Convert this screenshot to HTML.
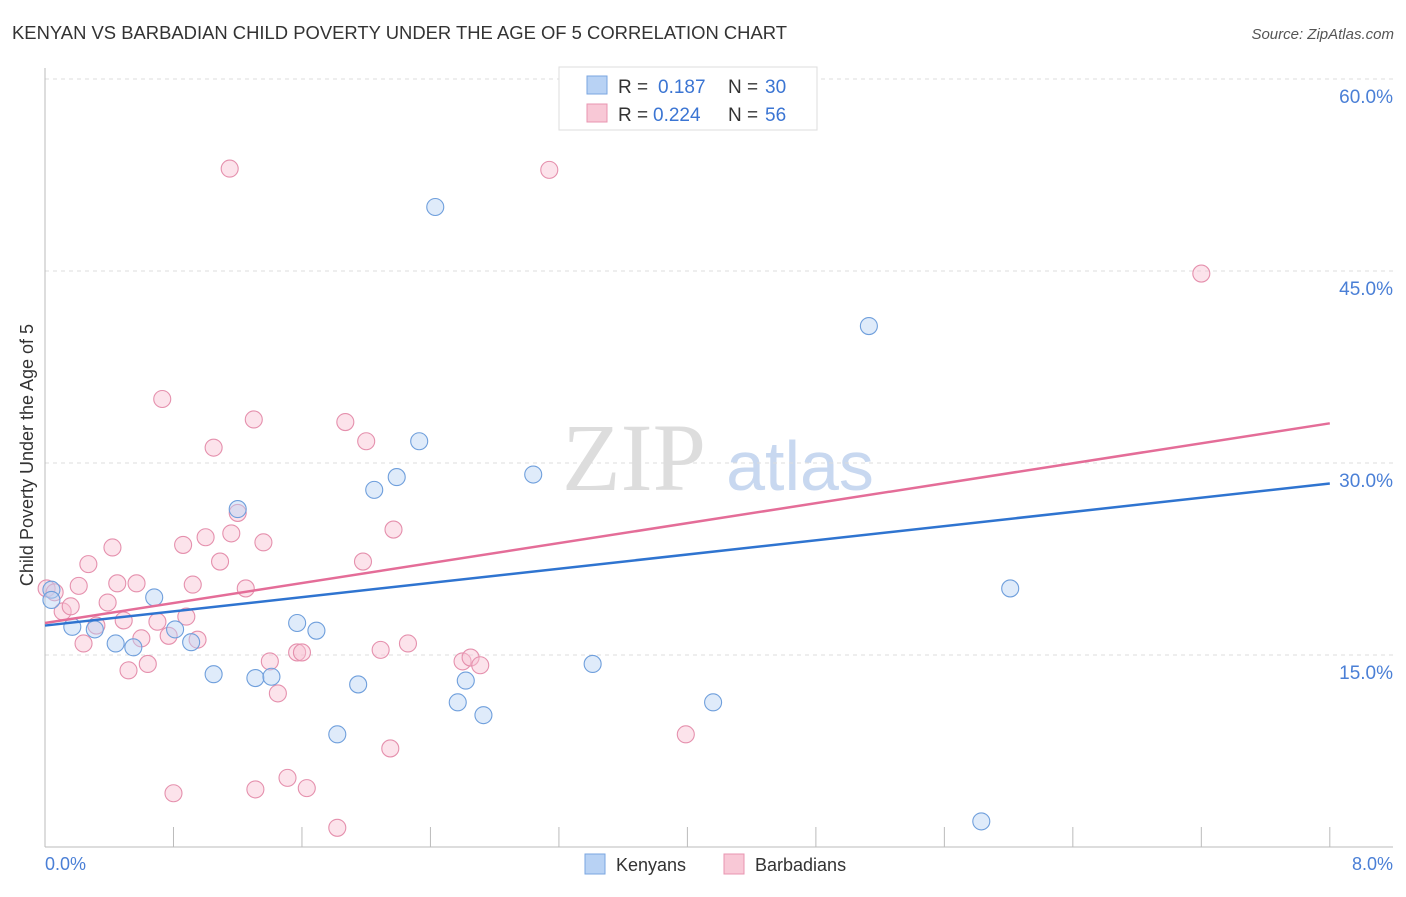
<!DOCTYPE html>
<html><head><meta charset="utf-8"><style>
body{margin:0;background:#fff;font-family:"Liberation Sans",sans-serif;}
</style></head><body>
<svg width="1406" height="892" xmlns="http://www.w3.org/2000/svg">
<text x="12" y="39" font-size="18" fill="#333" textLength="775" lengthAdjust="spacingAndGlyphs">KENYAN VS BARBADIAN CHILD POVERTY UNDER THE AGE OF 5 CORRELATION CHART</text>
<text x="1394" y="39" font-size="15" fill="#555" font-style="italic" text-anchor="end">Source: ZipAtlas.com</text>
<text x="634" y="490" font-size="96" fill="#ddd" font-family="Liberation Serif,serif" text-anchor="middle">ZIP</text>
<text x="800" y="490" font-size="70" fill="#c8d8f0" text-anchor="middle">atlas</text>
<g id="grid"></g><g id="axes"></g><g id="pts"></g><g id="lines"></g>
<text x="33" y="455" font-size="18" fill="#333" text-anchor="middle" transform="rotate(-90 33 455)">Child Poverty Under the Age of 5</text>
<text x="45" y="870" font-size="18" fill="#4a7fd6">0.0%</text>
<text x="1393" y="870" font-size="18" fill="#4a7fd6" text-anchor="end">8.0%</text>
<g>
<rect x="559" y="67" width="258" height="63" fill="#fff" stroke="#ddd"/>
<rect x="587" y="76" width="20" height="18" fill="#b8d2f4" stroke="#7aa6e0"/>
<text x="618" y="93" font-size="19" fill="#333">R =</text>
<text x="658" y="93" font-size="19" fill="#3b75d3">0.187</text>
<text x="728" y="93" font-size="19" fill="#333">N =</text>
<text x="765" y="93" font-size="19" fill="#3b75d3">30</text>
<rect x="587" y="104" width="20" height="18" fill="#f8c8d6" stroke="#e895b0"/>
<text x="618" y="121" font-size="19" fill="#333">R =</text>
<text x="653" y="121" font-size="19" fill="#3b75d3">0.224</text>
<text x="728" y="121" font-size="19" fill="#333">N =</text>
<text x="765" y="121" font-size="19" fill="#3b75d3">56</text>
</g>
<g>
<rect x="585" y="854" width="20" height="20" fill="#b8d2f4" stroke="#7aa6e0"/>
<text x="616" y="871" font-size="18" fill="#333">Kenyans</text>
<rect x="724" y="854" width="20" height="20" fill="#f8c8d6" stroke="#e895b0"/>
<text x="755" y="871" font-size="18" fill="#333">Barbadians</text>
</g>
</svg>
<script>
const yTicks=[15,30,45,60];
const yTickLabels=["15.0%","30.0%","45.0%","60.0%"];
const xTicks=[0,0.8,1.6,2.4,3.2,4.0,4.8,5.6,6.4,7.2,8.0];
const kenX=[0.04,0.04,0.17,0.31,0.44,0.55,0.68,0.81,0.91,1.05,1.20,1.31,1.41,1.57,1.69,1.82,1.95,2.05,2.19,2.33,2.43,2.57,2.62,2.73,3.04,3.41,4.16,5.13,5.83,6.01];
const kenY=[20.1,19.3,17.2,17.0,15.9,15.6,19.5,17.0,16.0,13.5,26.4,13.2,13.3,17.5,16.9,8.8,12.7,27.9,28.9,31.7,50.0,11.3,13.0,10.3,29.1,14.3,11.3,40.7,2.0,20.2];
const barX=[0.01,0.06,0.11,0.16,0.21,0.24,0.27,0.32,0.39,0.42,0.45,0.49,0.52,0.57,0.60,0.64,0.70,0.73,0.77,0.80,0.86,0.88,0.92,0.95,1.00,1.05,1.09,1.15,1.16,1.20,1.25,1.31,1.36,1.30,1.40,1.45,1.51,1.57,1.60,1.63,1.82,1.87,1.98,2.00,2.09,2.15,2.17,2.26,2.60,2.65,2.71,3.14,3.99,7.20];
const barY=[20.2,19.9,18.4,18.8,20.4,15.9,22.1,17.3,19.1,23.4,20.6,17.7,13.8,20.6,16.3,14.3,17.6,35.0,16.5,4.2,23.6,18.0,20.5,16.2,24.2,31.2,22.3,53.0,24.5,26.1,20.2,4.5,23.8,33.4,14.5,12.0,5.4,15.2,15.2,4.6,1.5,33.2,22.3,31.7,15.4,7.7,24.8,15.9,14.5,14.8,14.2,52.9,8.8,44.8];
const kenTrend=[17.3,28.4];
const barTrend=[17.5,33.1];
const NS="http://www.w3.org/2000/svg";
const X=v=>45+v*160.6, Y=v=>847-v*12.8;
function mk(t,a,p){const e=document.createElementNS(NS,t);for(const k in a)e.setAttribute(k,a[k]);document.getElementById(p).appendChild(e);return e;}
yTicks.forEach((t,i)=>{
 let l=mk('line',{x1:45,x2:1393,y1:Y(t),y2:Y(t),stroke:'#ddd','stroke-dasharray':'4,4'},'grid');
 
 
 let tx=mk('text',{x:1393,y:Y(t)+24,'font-size':19,fill:'#4a7fd6','text-anchor':'end'},'grid');
 tx.textContent=yTickLabels[i];
 
 
});
let ax=mk('line',{x1:45,x2:1393,y1:847,y2:847,stroke:'#bbb'},'axes');


let ay=mk('line',{x1:45,x2:45,y1:68,y2:847,stroke:'#bbb'},'axes');


xTicks.forEach(t=>{let l=mk('line',{x1:X(t),x2:X(t),y1:827,y2:847,stroke:'#bbb'},'axes');
 
 });
function pts(xs,ys,f,s,n){xs.forEach((x,i)=>{let c=mk('circle',{cx:X(x),cy:Y(ys[i]),r:8.5,fill:f,'fill-opacity':0.45,stroke:s,'stroke-width':1.1},'pts');
 
 });}
pts(barX,barY,'#f8c0d2','#e590ad','barbadian-point');
pts(kenX,kenY,'#b8d2f4','#6f9fdc','kenyan-point');
let k=mk('line',{x1:X(0),y1:Y(kenTrend[0]),x2:X(8),y2:Y(kenTrend[1]),stroke:'#2f74d0','stroke-width':2.5},'lines');


let b=mk('line',{x1:X(0),y1:Y(barTrend[0]),x2:X(8),y2:Y(barTrend[1]),stroke:'#e46d98','stroke-width':2.5},'lines');


</script>
</body></html>
